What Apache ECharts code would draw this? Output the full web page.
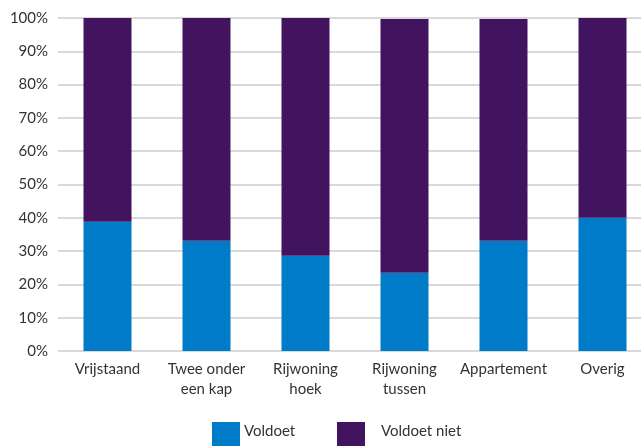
<!DOCTYPE html>
<html>
<head>
<meta charset="utf-8">
<script src="https://cdn.jsdelivr.net/npm/echarts@6/dist/echarts.min.js"></script>
<style>
  html, body { margin: 0; padding: 0; background: #fff; overflow: hidden; }
  /* the plot runs slightly past the right edge of the window */
  #chart { width: 652px; height: 446px; }
</style>
</head>
<body>
<div id="chart"></div>
<script>
// Woningtypen en aandeel (in %) dat wel / niet voldoet
const categories = ['Vrijstaand', 'Twee onder\neen kap', 'Rijwoning\nhoek', 'Rijwoning\ntussen', 'Appartement', 'Overig'];
const voldoet = [38.8, 33.1, 28.6, 23.5, 33.1, 40.0];
const voldoetNiet = [61.2, 66.9, 71.4, 76.2, 66.6, 60.0];
const yTicks = [0, 10, 20, 30, 40, 50, 60, 70, 80, 90, 100];

const textColor = '#333333';
const fontFamily = 'Lato, "Open Sans", sans-serif';

const chart = echarts.init(document.getElementById('chart'), null, { renderer: 'canvas' });

function legendFor(name, left, textGap) {
  return {
    data: [name],
    left: left,
    top: 422,
    padding: 0,
    itemWidth: 28,
    itemHeight: 28,
    itemGap: 0,
    icon: 'rect',
    formatter: n => '{t|' + n + '}',
    textStyle: {
      color: textColor,
      fontSize: 15,
      fontFamily: fontFamily,
      rich: {
        t: { color: textColor, fontSize: 15, fontFamily: fontFamily, padding: [0, 0, 10, textGap] }
      }
    }
  };
}

chart.setOption({
  animation: false,
  textStyle: { fontFamily: fontFamily, color: textColor },
  grid: { left: 58, right: 0, top: 18, bottom: 95, containLabel: false },
  xAxis: {
    type: 'category',
    data: categories,
    axisLine: { show: false },
    axisTick: { show: false },
    axisLabel: {
      color: textColor,
      fontSize: 15,
      lineHeight: 20,
      margin: 8,
      interval: 0,
      fontFamily: fontFamily
    }
  },
  yAxis: {
    type: 'value',
    min: yTicks[0],
    max: yTicks[yTicks.length - 1],
    interval: yTicks[1] - yTicks[0],
    axisLine: { show: false },
    axisTick: { show: false },
    splitLine: { lineStyle: { color: '#d9d9d9', width: 2 } },
    axisLabel: {
      color: textColor,
      fontSize: 15,
      margin: 10,
      fontFamily: fontFamily,
      formatter: v => v + '%'
    }
  },
  legend: [
    legendFor('Voldoet', 212, -1),
    legendFor('Voldoet niet', 337, 11)
  ],
  series: [
    {
      name: 'Voldoet',
      type: 'bar',
      stack: 'totaal',
      barWidth: 48,
      data: voldoet,
      itemStyle: { color: '#007bc7' }
    },
    {
      name: 'Voldoet niet',
      type: 'bar',
      stack: 'totaal',
      barWidth: 48,
      data: voldoetNiet,
      itemStyle: { color: '#42145f' }
    }
  ]
});
</script>
</body>
</html>
